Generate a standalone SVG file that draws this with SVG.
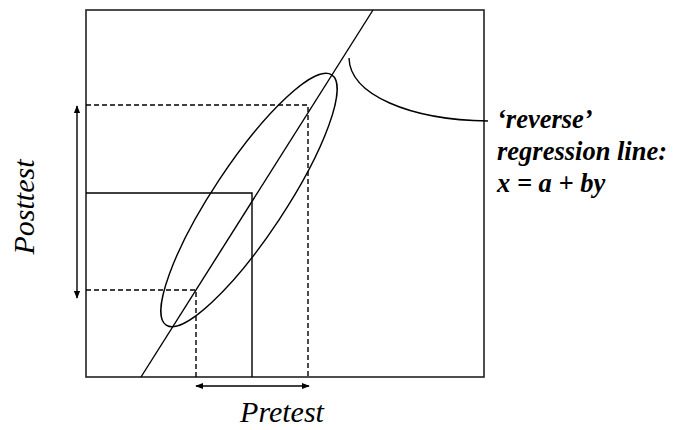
<svg xmlns="http://www.w3.org/2000/svg" width="673" height="430" viewBox="0 0 673 430">
<defs>
<style>
.ln{fill:none;stroke:#000;stroke-width:1.4}
.bx{fill:none;stroke:#222;stroke-width:1.6}
.ds{fill:none;stroke:#000;stroke-width:1.4;stroke-dasharray:5 3}
.ar{fill:none;stroke:#000;stroke-width:1.4;marker-start:url(#ah);marker-end:url(#ah)}
.lbl{font-family:"Liberation Serif","Times New Roman",serif;font-style:italic;font-size:30px;fill:#000}
.note{font-family:"Liberation Serif","Times New Roman",serif;font-style:italic;font-weight:bold;font-size:26.5px;fill:#000}
</style>
<marker id="ah" viewBox="0 0 10 10" refX="9" refY="5" markerWidth="8" markerHeight="8" orient="auto-start-reverse" markerUnits="userSpaceOnUse">
<path d="M0,1 L10,5 L0,9 Z" fill="#000"/>
</marker>
</defs>
<g id="plot-frame">
<rect class="bx" x="86" y="10" width="398" height="367"/>
</g>
<g id="regions">
<path class="ds" d="M86,105 H308 V377"/>
<path class="ln" d="M86,193 H252 V377"/>
<path class="ds" d="M86,290 H196 V377"/>
</g>
<g id="ellipse">
<ellipse class="ln" cx="249" cy="200" rx="150" ry="36" transform="rotate(-56.5 249 200)"/>
</g>
<g id="connectors">
<line class="ln" x1="141" y1="377" x2="373" y2="10"/>
<path class="ln" d="M349,58 C350,95 410,120 488,121"/>
<line class="ar" x1="77" y1="106" x2="77" y2="298"/>
<line class="ar" x1="196" y1="386" x2="309" y2="386"/>
</g>
<g id="labels">
<text class="lbl" x="282" y="422" text-anchor="middle">Pretest</text>
<text class="lbl" transform="translate(34 207) rotate(-90)" text-anchor="middle">Posttest</text>
<text class="note" x="497" y="128">‘reverse’</text>
<text class="note" x="497" y="160">regression line:</text>
<text class="note" x="497" y="192">x = a + by</text>
</g>
</svg>
